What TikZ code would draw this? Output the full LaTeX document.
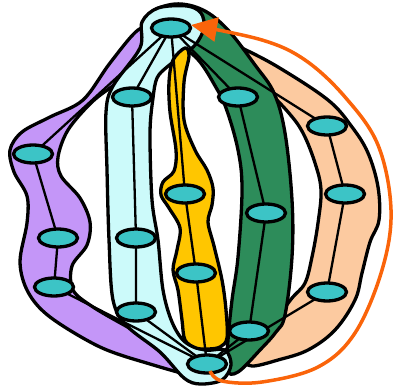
\documentclass[tikz,border=0pt]{standalone}
\usetikzlibrary{shapes.geometric,arrows.meta}
\definecolor{vnode}{RGB}{60,196,198}
\definecolor{bpurple}{RGB}{196,150,248}
\definecolor{bcyan}{RGB}{204,250,250}
\definecolor{byellow}{RGB}{255,198,0}
\definecolor{bgreen}{RGB}{45,140,90}
\definecolor{bpeach}{RGB}{252,202,160}
\definecolor{arrorange}{RGB}{250,100,10}
\pgfdeclarelayer{bandlayer}
\pgfdeclarelayer{edgelayer}
\pgfsetlayers{bandlayer,edgelayer,main}
\tikzset{
  vtx/.style={ellipse,draw=black,line width=3.3pt,fill=vnode,minimum width=39pt,minimum height=18pt,inner sep=0pt},
  band/.style={draw=black,line width=3.3pt},
  edge/.style={draw=black,line width=2.3pt},
}
\begin{document}
\begin{tikzpicture}[x=1pt,y=-1pt]
\useasboundingbox (0,0) rectangle (395,387);
% bands
\begin{pgfonlayer}{bandlayer}
\path[band,fill=bpeach] plot[smooth cycle,tension=0.6] coordinates {(225,40) (240,47) (278,67) (328,100) (352,127) (368,153) (378,187) (379,220) (370,242) (362,273) (355,300) (335,330) (308,350) (278,360) (252,366) (246,358) (262,337) (278,317) (292,298) (305,283) (312,257) (318,223) (321,190) (315,163) (303,133) (288,112) (262,85) (240,64)};
\path[band,fill=bgreen] plot[smooth cycle,tension=0.6] coordinates {(150,14) (175,4) (203,10) (228,30) (255,65) (274,93) (285,133) (292,200) (292,257) (285,315) (276,332) (260,350) (238,372) (227,370) (228,340) (232,300) (238,257) (242,190) (238,150) (226,108) (214,84) (200,62) (185,48) (165,32)};
\path[band,fill=bpurple] plot[smooth cycle,tension=0.55] coordinates {(155,30) (138,30) (110,63) (83,100) (50,117) (22,132) (10,150) (14,172) (27,196) (27,223) (20,262) (28,292) (50,317) (100,347) (150,364) (196,376) (200,367) (173,352) (133,330) (93,307) (73,290) (72,266) (87,245) (90,222) (80,198) (61,176) (58,157) (68,130) (92,102) (118,82) (150,56)};
\path[band,fill=bcyan] plot[smooth cycle,tension=0.55] coordinates {(142,22) (158,8) (187,6) (201,13) (204,28) (196,44) (183,55) (167,67) (157,78) (153,98) (150,133) (152,200) (158,240) (163,290) (172,322) (185,342) (205,350) (225,350) (231,365) (222,380) (200,384) (184,378) (160,352) (127,326) (113,300) (109,240) (107,170) (106,112) (113,86) (140,48)};
\path[band,fill=byellow] plot[smooth cycle,tension=0.55] coordinates {(185,48) (173,60) (169,82) (170,112) (176,150) (174,171) (163,182) (161,195) (169,208) (180,228) (177,250) (173,270) (178,290) (182,320) (185,340) (196,348) (208,349) (220,347) (227,338) (226,310) (222,280) (214,246) (208,222) (212,205) (213,188) (207,170) (195,150) (184,120) (184,82) (189,56)};
\end{pgfonlayer}
% nodes
\node[vtx] (T) at (171,28) {};
\node[vtx] (B) at (207,364) {};
\node[vtx] (P1) at (33,154) {};
\node[vtx] (P2) at (58,238) {};
\node[vtx] (P3) at (54,287) {};
\node[vtx] (C1) at (132,97) {};
\node[vtx] (C2) at (136,238) {};
\node[vtx] (C3) at (136,312) {};
\node[vtx] (Y1) at (185,194) {};
\node[vtx] (Y2) at (196,273) {};
\node[vtx] (G1) at (238,97) {};
\node[vtx] (G2) at (266,213) {};
\node[vtx] (G3) at (249,331) {};
\node[vtx] (O1) at (327,126) {};
\node[vtx] (O2) at (345,194) {};
\node[vtx] (O3) at (327,292) {};
% edges
\begin{pgfonlayer}{edgelayer}
\path[edge] (T.center) -- (P1.center) -- (P2.center) -- (P3.center) -- (B.center);
\path[edge] (T.center) -- (C1.center) -- (C2.center) -- (C3.center) -- (B.center);
\path[edge] (T.center) -- (Y1.center) -- (Y2.center) -- (B.center);
\path[edge] (T.center) -- (G1.center) -- (G2.center) -- (G3.center) -- (B.center);
\path[edge] (T.center) -- (O1.center) -- (O2.center) -- (O3.center) -- (B.center);
\end{pgfonlayer}
% orange arrow
\draw[arrorange,line width=3.5pt,-{Triangle[length=26pt,width=24pt]}] plot[smooth,tension=0.6] coordinates {(210,371) (222,381) (262,382) (318,367) (355,333) (382,270) (391,210) (378,145) (345,97) (305,60) (262,40) (191,25)};
\end{tikzpicture}
\end{document}
